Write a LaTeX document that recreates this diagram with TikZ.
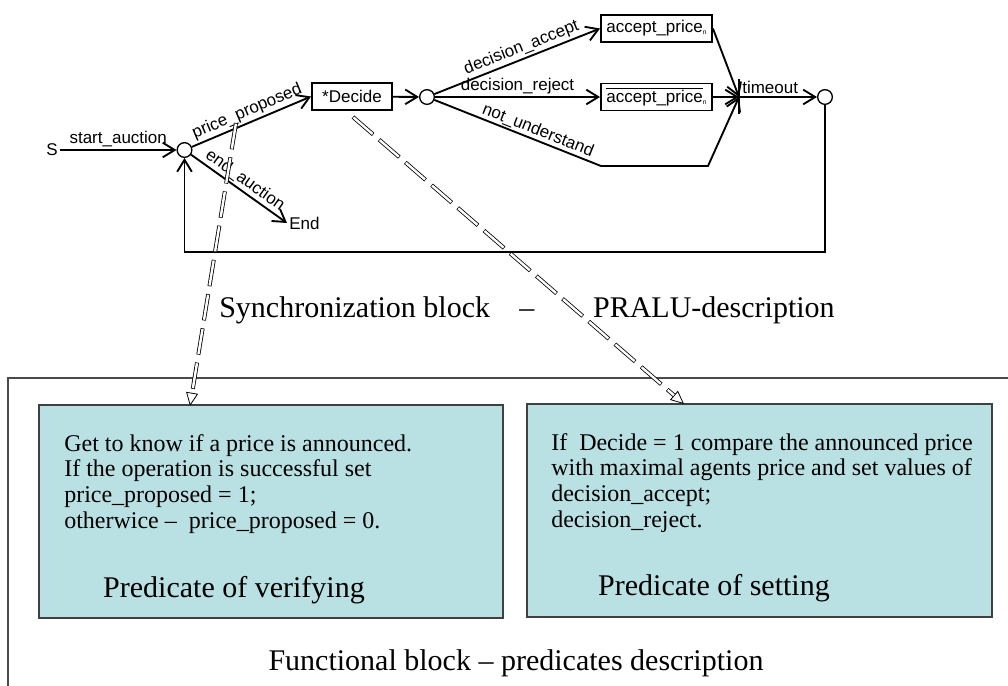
\documentclass[tikz,border=0pt]{standalone}
\usepackage{fontspec}
\setmainfont{Liberation Serif}
\newfontfamily\arialfont{Liberation Sans}
\usetikzlibrary{arrows.meta, positioning, calc}
\definecolor{predfill}{HTML}{B9E0E3}
\definecolor{framegray}{HTML}{4A4A4A}
\newcommand{\subn}{\raisebox{-1.5pt}{\fontsize{5}{5}\selectfont n}}

\begin{document}
\begin{tikzpicture}[x=0.75pt, y=-0.75pt,
  lbl/.style={font=\arialfont\fontsize{12.75}{14}\selectfont, inner sep=1.5pt},
  state/.style={draw, line width=1.4pt, lbl, minimum height=20.25pt, inner sep=2pt},
  pt/.style={circle, draw, line width=1pt, minimum size=11pt, inner sep=0pt},
  arr/.style={-{Straight Barb[length=9pt, width=11pt]}, line width=1.4pt},
  link/.style={line width=3pt, dash pattern=on 20pt off 6pt,
    -{Triangle[length=10pt, width=9pt, fill=white, line width=0.6pt]},
    postaction={draw=white, -, line width=1.8pt, dash pattern=on 19pt off 7pt,
      dash phase=25.5pt, shorten >=10pt}},
  frame/.style={draw=framegray, line width=1.1pt},
  pbox/.style={draw=black!75, fill=predfill, line width=1.1pt, inner sep=0pt},
  ptext/.style={font=\fontsize{18}{19.3}\selectfont, align=left, inner sep=0pt},
  ptitle/.style={font=\fontsize{22.5}{27}\selectfont, inner sep=0pt}]
  \useasboundingbox (0,0) rectangle (1008,686);

  % Synchronization block
  \node[lbl] (s) at (52,150) {S};
  \node[pt] (c1) at (184.5,150) {};
  \node[state, minimum width=60pt] (decide) at (352,96.5) {*Decide};
  \node[pt] (c2) at (427,97) {};
  \node[state, minimum width=83.25pt] (acc) at (656.5,28.5) {accept\_price\subn};
  \node[state, minimum width=83.25pt] (rej) at (656.5,97) {$\overline{\mbox{accept\_price}}$\subn};
  \node[pt] (c3) at (825,97) {};
  \node[lbl, anchor=west] (end) at (287,223) {End};
  \coordinate (j) at (739,97);
  \coordinate (jt) at (739,79);
  \coordinate (jb) at (739,114);
  \coordinate (nu1) at (601,166);
  \coordinate (nu2) at (708,166);
  \coordinate (lp) at (825,252);

  \draw[arr] (s) -- node[lbl, above] {start\_auction} (c1);
  \draw[arr] (c1) -- node[lbl, sloped, above] {price\_proposed} (decide.west);
  \draw[arr] (c1) -- node[lbl, sloped, above, inner sep=1pt] {end\_auction} (end.west);
  \draw[arr] (decide) -- (c2);
  \draw[arr] (c2) -- node[lbl, sloped, above, pos=0.55] {decision\_accept} (acc.west);
  \draw[arr] (c2) -- node[lbl, above] {decision\_reject} (rej);
  \draw[arr] (c2) -- node[lbl, sloped, above, pos=0.6, inner sep=0.5pt] {not\_understand} (nu1) -- (nu2) -- (j);
  \draw[arr] (acc.east) -- (j);
  \draw[arr] (rej) -- (j);
  \draw[line width=1.4pt] (jt) -- (jb);
  \draw[arr] (j) -- node[lbl, above, pos=0.4] {timeout} (c3);
  \draw[arr] (c3) -- (lp) -| (c1);

  \node[ptitle] (synctxt) at (527,310) {Synchronization block\hspace{22pt}–\hspace{44pt}PRALU-description};

  % Functional block
  \draw[frame] (8,686) -- (8,378) -- (1008,378);
  \node[pbox, minimum width=348pt, minimum height=159.75pt] (verbox) at (271,511.5) {};
  \node[pbox, minimum width=348.75pt, minimum height=159.75pt] (setbox) at (759.5,510.5) {};
  \node[ptext, anchor=north west] (vertxt) at (64,434) {Get to know if a price is announced.\\
    If the operation is successful set\\
    price\_proposed = 1;\\
    otherwice –\ \ price\_proposed = 0.};
  \node[ptext, anchor=north west] (settxt) at (551,433) {If\ \ Decide = 1 compare the announced price\\
    with maximal agents price and set values of\\
    decision\_accept;\\
    decision\_reject.};
  \node[ptitle] (vername) at (234,590) {Predicate of verifying};
  \node[ptitle] (setname) at (714,588) {Predicate of setting};
  \node[ptitle] (funcname) at (516,663) {Functional block – predicates description};

  % links to predicates
  \coordinate (va) at (236,123);
  \coordinate (vb) at (190,406);
  \coordinate (sa) at (353,117);
  \coordinate (sb) at (684,404);
  \draw[link] (va) -- (vb);
  \draw[link] (sa) -- (sb);
\end{tikzpicture}
\end{document}
